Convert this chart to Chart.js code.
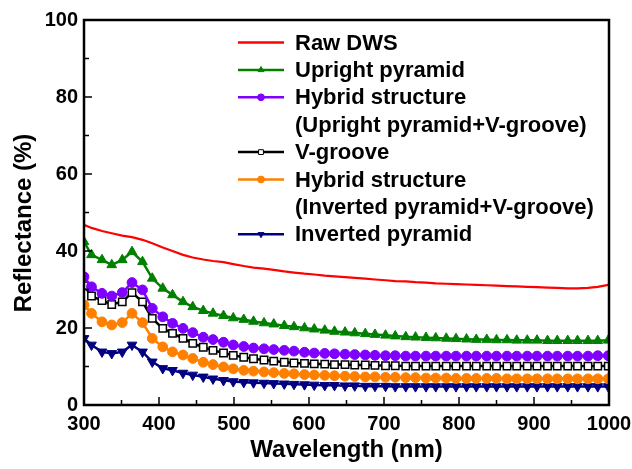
<!DOCTYPE html>
<html>
<head>
<meta charset="utf-8">
<script src="https://cdn.jsdelivr.net/npm/chart.js@4/dist/chart.umd.min.js"></script>
<style>
  html, body { margin: 0; padding: 0; background: #fff; }
  #wrap { width: 632px; height: 469px; }
</style>
</head>
<body>
<div id="wrap"><canvas id="reflChart" width="632" height="469"></canvas></div>
<script>
// wavelength grid (nm)
const wavelengths = [300, 310, 324, 337, 351, 364, 378, 391, 405, 418, 432, 445, 459, 472, 486, 499, 513, 526, 540, 553,
  567, 580, 594, 607, 621, 634, 648, 661, 675, 688, 702, 715, 729, 742, 756, 769, 783, 796, 810, 823,
  837, 850, 864, 877, 891, 904, 918, 931, 945, 958, 972, 985, 999];

// reflectance (%)
const rawDWS = [46.8, 46.0, 45.2, 44.6, 44.0, 43.6, 42.9, 42.0, 40.9, 40.0, 39.0, 38.3, 37.8, 37.4, 37.1, 36.6, 36.1, 35.7, 35.4, 35.1,
  34.7, 34.4, 34.1, 33.9, 33.6, 33.4, 33.2, 33.0, 32.8, 32.6, 32.4, 32.2, 32.1, 31.9, 31.8, 31.6, 31.5, 31.4, 31.3, 31.2,
  31.1, 31.0, 30.9, 30.8, 30.7, 30.6, 30.5, 30.4, 30.3, 30.3, 30.4, 30.7, 31.2];
const uprightPyramid = [42.4, 39.0, 37.7, 36.4, 37.7, 39.8, 37.2, 32.9, 30.3, 28.6, 26.8, 25.5, 24.5, 23.8, 23.2, 22.6, 22.2, 21.7, 21.3, 21.0,
  20.6, 20.3, 20.0, 19.7, 19.4, 19.1, 18.9, 18.7, 18.5, 18.3, 18.1, 17.9, 17.7, 17.6, 17.5, 17.4, 17.3, 17.2, 17.1, 17.0,
  17.0, 16.9, 16.9, 16.8, 16.8, 16.8, 16.7, 16.7, 16.7, 16.7, 16.7, 16.7, 16.8];
const hybridUpright = [33.3, 30.7, 29.0, 28.3, 29.2, 31.8, 29.9, 25.1, 22.9, 21.2, 19.9, 18.8, 17.6, 17.0, 16.3, 15.6, 15.2, 14.8, 14.6, 14.4,
  14.2, 14.0, 13.7, 13.5, 13.4, 13.3, 13.2, 13.1, 13.0, 12.9, 12.8, 12.8, 12.7, 12.7, 12.7, 12.7, 12.7, 12.7, 12.7, 12.7,
  12.7, 12.7, 12.7, 12.7, 12.7, 12.7, 12.7, 12.7, 12.7, 12.7, 12.7, 12.8, 12.8];
const vGroove = [31.0, 28.3, 27.1, 26.1, 26.8, 29.2, 26.8, 22.5, 19.9, 18.6, 17.3, 16.0, 15.0, 14.2, 13.5, 12.9, 12.4, 12.0, 11.7, 11.4,
  11.1, 10.9, 10.8, 10.7, 10.6, 10.5, 10.5, 10.4, 10.4, 10.3, 10.2, 10.2, 10.1, 10.1, 10.1, 10.1, 10.1, 10.1, 10.1, 10.1,
  10.1, 10.1, 10.1, 10.1, 10.1, 10.1, 10.1, 10.1, 10.1, 10.1, 10.1, 10.1, 10.1];
const hybridInverted = [26.0, 23.8, 21.6, 20.8, 21.4, 23.8, 21.4, 17.3, 15.1, 13.8, 13.0, 12.1, 11.1, 10.5, 9.9, 9.4, 9.0, 8.8, 8.6, 8.4,
  8.2, 8.1, 7.9, 7.8, 7.7, 7.6, 7.5, 7.4, 7.3, 7.3, 7.2, 7.2, 7.1, 7.1, 7.0, 7.0, 7.0, 6.9, 6.9, 6.9,
  6.9, 6.9, 6.8, 6.8, 6.8, 6.8, 6.8, 6.8, 6.8, 6.8, 6.8, 6.8, 6.8];
const invertedPyramid = [17.3, 15.6, 13.8, 13.4, 13.8, 15.6, 13.8, 11.2, 9.5, 9.0, 8.3, 7.8, 7.3, 6.8, 6.4, 6.1, 5.9, 5.8, 5.7, 5.6,
  5.5, 5.4, 5.3, 5.2, 5.1, 5.1, 5.0, 5.0, 4.9, 4.9, 4.9, 4.8, 4.8, 4.8, 4.8, 4.8, 4.8, 4.8, 4.8, 4.8,
  4.8, 4.8, 4.8, 4.8, 4.8, 4.8, 4.8, 4.8, 4.8, 4.8, 4.8, 4.8, 4.8];

const seriesLabels = ['Raw DWS', 'Upright pyramid', 'Hybrid structure\n(Upright pyramid+V-groove)', 'V-groove',
  'Hybrid structure\n(Inverted pyramid+V-groove)', 'Inverted pyramid'];

const xTicksMajor = [300, 400, 500, 600, 700, 800, 900, 1000];
const xTicksMinor = [350, 450, 550, 650, 750, 850, 950];
const yTicksMajor = [0, 20, 40, 60, 80, 100];
const yTicksMinor = [10, 30, 50, 70, 90];

const FONT = "'Liberation Sans', Arial, sans-serif";

function pts(ys) {
    return wavelengths.map((w, i) => ({ x: w, y: ys[i] }));
}

function series(label, ys, color, style, extra) {
    return Object.assign({
        label: label,
        data: pts(ys),
        borderColor: color,
        backgroundColor: color,
        borderWidth: 2.5,
        pointStyle: style,
        pointRadius: 4.9,
        pointBorderWidth: 1,
        pointHoverRadius: 4.9,
        tension: 0
    }, extra || {});
}

// frame, inward ticks, y title and the legend
const framePlugin = {
    id: 'frame',
    afterDraw(chart) {
        const ctx = chart.ctx;
        const a = chart.chartArea;
        const xs = chart.scales.x, ys = chart.scales.y;
        ctx.save();
        ctx.strokeStyle = '#000';
        ctx.lineWidth = 1.5;
        ctx.beginPath();
        xTicksMajor.forEach(v => { const p = xs.getPixelForValue(v); ctx.moveTo(p, a.bottom); ctx.lineTo(p, a.bottom - 8); });
        xTicksMinor.forEach(v => { const p = xs.getPixelForValue(v); ctx.moveTo(p, a.bottom); ctx.lineTo(p, a.bottom - 5); });
        yTicksMajor.forEach(v => { const p = ys.getPixelForValue(v); ctx.moveTo(a.left, p); ctx.lineTo(a.left + 8, p); });
        yTicksMinor.forEach(v => { const p = ys.getPixelForValue(v); ctx.moveTo(a.left, p); ctx.lineTo(a.left + 5, p); });
        ctx.stroke();
        ctx.lineWidth = 2.5;
        ctx.strokeRect(a.left, a.top, a.right - a.left, a.bottom - a.top);

        // y axis title (sits a bit below the plot centre in the original)
        ctx.save();
        ctx.translate(24, 223);
        ctx.rotate(-Math.PI / 2);
        ctx.font = 'bold 24px ' + FONT;
        ctx.fillStyle = '#000';
        ctx.textAlign = 'center';
        ctx.textBaseline = 'middle';
        ctx.fillText('Reflectance (%)', 0, 0);
        ctx.restore();

        // legend
        let y = 42.5;
        const lineH = 27.4;
        ctx.font = 'bold 22px ' + FONT;
        ctx.textBaseline = 'middle';
        ctx.textAlign = 'left';
        chart.data.datasets.forEach(ds => {
            ctx.strokeStyle = ds.borderColor;
            ctx.lineWidth = 2.5;
            ctx.beginPath();
            ctx.moveTo(238, y);
            ctx.lineTo(284, y);
            ctx.stroke();
            if (ds.pointRadius > 0) {
                ctx.fillStyle = ds.pointBackgroundColor || ds.backgroundColor;
                ctx.strokeStyle = ds.borderColor;
                ctx.lineWidth = 1;
                Chart.helpers.drawPoint(ctx, {
                    pointStyle: ds.pointStyle,
                    rotation: ds.pointRotation || 0,
                    radius: 3.4,
                    borderWidth: 1
                }, 261, y);
            }
            ctx.fillStyle = '#000';
            ds.label.split('\n').forEach(line => {
                ctx.fillText(line, 295, y + 1);
                y += lineH;
            });
        });
        ctx.restore();
    }
};

new Chart(document.getElementById('reflChart'), {
    type: 'line',
    data: {
        datasets: [
            series(seriesLabels[0], rawDWS, '#ff0000', 'circle', { pointRadius: 0, pointHoverRadius: 0, borderWidth: 2.2 }),
            series(seriesLabels[1], uprightPyramid, '#008000', 'triangle', { pointRadius: 5.6 }),
            series(seriesLabels[2], hybridUpright, '#8000ff', 'circle'),
            series(seriesLabels[3], vGroove, '#000000', 'rect', { pointRadius: 5.2, pointBackgroundColor: '#ffffff', pointBorderWidth: 1.5 }),
            series(seriesLabels[4], hybridInverted, '#ff8000', 'circle'),
            series(seriesLabels[5], invertedPyramid, '#000080', 'triangle', { pointRadius: 5.6, pointRotation: 180 })
        ]
    },
    options: {
        responsive: false,
        animation: false,
        events: [],
        layout: { padding: { top: 20, right: 23, left: 0, bottom: 0 } },
        plugins: { legend: { display: false }, tooltip: { enabled: false } },
        scales: {
            x: {
                type: 'linear',
                min: 300, max: 1000,
                grid: { display: false, drawTicks: false },
                border: { display: false },
                afterFit(scale) {
                    scale.height = 64;
                    scale.paddingLeft = 0;
                    scale.paddingRight = 0;
                },
                ticks: {
                    stepSize: 100,
                    padding: 7,
                    color: '#000',
                    maxRotation: 0,
                    callback: v => String(v),
                    font: { family: FONT, size: 20, weight: 'bold' }
                },
                title: {
                    display: true,
                    text: 'Wavelength (nm)',
                    color: '#000',
                    padding: { top: 0, bottom: 4 },
                    font: { family: FONT, size: 24, weight: 'bold' }
                }
            },
            y: {
                min: 0, max: 100,
                grid: { display: false, drawTicks: false },
                border: { display: false },
                afterFit(scale) {
                    scale.width = 84;
                    scale.paddingTop = 0;
                    scale.paddingBottom = 0;
                },
                ticks: {
                    stepSize: 20,
                    padding: 6,
                    color: '#000',
                    font: { family: FONT, size: 20, weight: 'bold' }
                },
                title: { display: false }
            }
        }
    },
    plugins: [framePlugin]
});
</script>
</body>
</html>
